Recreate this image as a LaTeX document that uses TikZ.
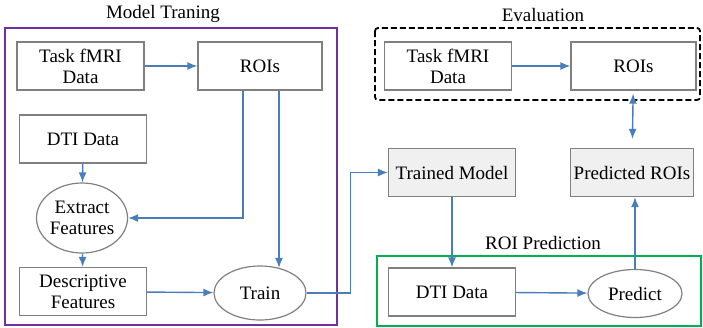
\documentclass[tikz,border=0pt]{standalone}
\usepackage{fontspec}
\setmainfont{Liberation Serif}
\usepackage{tikz}
\usetikzlibrary{arrows.meta,shapes}
\definecolor{flowblue}{HTML}{4A7EBB}
\definecolor{boxgray}{HTML}{808080}
\definecolor{trainpurple}{HTML}{7030A0}
\definecolor{predgreen}{HTML}{00B050}
\tikzstyle{box} = [rectangle, draw=boxgray, line width=1.2pt, fill=white, minimum width=127pt, minimum height=48pt, align=center, inner sep=1pt]
\tikzstyle{result} = [box, fill=gray!12]
\tikzstyle{step-oval} = [ellipse, draw=boxgray, line width=1.2pt, fill=white, align=center, inner sep=0pt]
\tikzstyle{flow} = [-{Latex[length=10pt,width=8pt]}, draw=flowblue, line width=1.4pt]

\begin{document}
\begin{tikzpicture}[x=1pt, y=-1pt, font=\rmfamily\fontsize{19}{21}\selectfont]
    \useasboundingbox (0,0) rectangle (703,327);

    % containers
    \draw [trainpurple, line width=2pt] (5,28) rectangle (337,325);
    \draw [black, line width=1.8pt, dash pattern=on 6pt off 3pt, rounded corners=3pt] (375,28) rectangle (700,100);
    \draw [predgreen, line width=2pt] (377,256) rectangle (701,326);
    \node (trainlabel) at (163,14) {Model Traning};
    \node (evallabel) at (543,15) {Evaluation};
    \node (predlabel) at (543,243) {ROI Prediction};

    % model training
    \node [box] (fmri) at (80.5,66) {Task fMRI\\Data};
    \node [box, minimum width=124pt] (rois) at (260,66) {ROIs};
    \node [box] (dti) at (83,139) {DTI Data};
    \node [step-oval, minimum width=91pt, minimum height=70pt] (extract) at (82,218) {Extract\\Features};
    \node [box] (desc) at (83,291.5) {Descriptive\\Features};
    \node [step-oval, minimum width=92pt, minimum height=54pt] (train) at (260,293) {Train};

    % evaluation
    \node [box] (evalfmri) at (448,66) {Task fMRI\\Data};
    \node [box, minimum width=125pt] (evalrois) at (633.5,66) {ROIs};

    % prediction
    \node [result] (trained) at (452,172.5) {Trained Model};
    \node [result, minimum width=123pt] (predrois) at (632,172.5) {Predicted ROIs};
    \node [box] (dti2) at (452,292) {DTI Data};
    \node [step-oval, minimum width=94pt, minimum height=48pt] (predict) at (635,293.5) {Predict};

    % training arrows
    \draw [flow] (fmri) -- (rois);
    \draw [flow] (dti) -- (extract);
    \draw [flow] (extract) -- (desc);
    \draw [flow] ([xshift=-17pt]rois.south) |- (extract.east);
    \draw [flow] ([xshift=19pt]rois.south) -- ([xshift=19pt,yshift=-2.5pt]train.north);
    \draw [flow] (desc) -- (train);
    % train -> trained model
    \draw [flow] (train.east) -- ++(44,0) |- (trained.west);
    % evaluation arrows
    \draw [flow, {Latex[length=10pt,width=8pt]}-{Latex[length=10pt,width=8pt]}, shorten <=3pt, shorten >=9pt] (evalrois) -- (predrois);
    \draw [flow] (evalfmri) -- (evalrois);
    % prediction arrows
    \draw [flow] (trained) -- (dti2);
    \draw [flow] (dti2) -- (predict);
    \draw [flow] (predict) -- (predict |- predrois.south);
\end{tikzpicture}
\end{document}
